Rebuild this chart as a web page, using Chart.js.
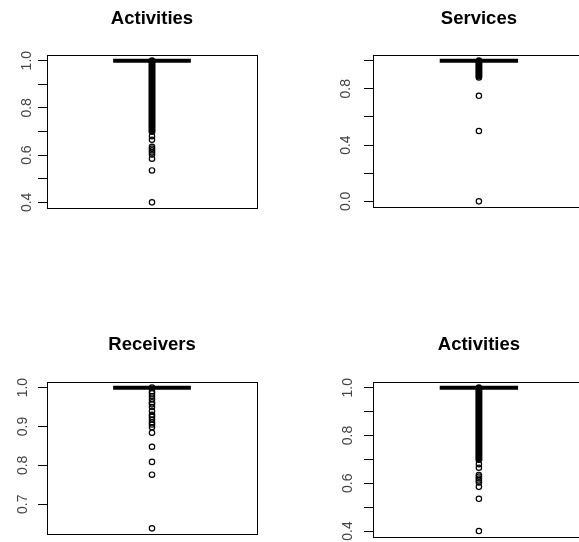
<!DOCTYPE html>
<html>
<head>
<meta charset="utf-8">
<script src="https://cdn.jsdelivr.net/npm/chart.js@4.4.1/dist/chart.umd.min.js"></script>
<style>
  html, body { margin: 0; padding: 0; background: #fff; width: 579px; height: 542px; overflow: hidden; }
  canvas { position: absolute; display: block; }
</style>
</head>
<body>
<canvas id="c1"></canvas>
<canvas id="c2"></canvas>
<canvas id="c3"></canvas>
<canvas id="c4"></canvas>
<script>
// ---- data ----
const titles = ['Activities', 'Services', 'Receivers', 'Activities'];

// Activities: median, a run of outliers packed so tightly they form a solid column, and the sparse outliers below it
const activitiesMedian = 1.0;
const activitiesDense = [0.70, 1.0];
const activitiesOutliers = [0.68, 0.665, 0.635, 0.628, 0.62, 0.612, 0.603, 0.585, 0.535, 0.40];
const activitiesTicks = [0.4, 0.5, 0.6, 0.7, 0.8, 0.9, 1.0];
const activitiesTickLabels = ['0.4', '', '0.6', '', '0.8', '', '1.0'];

// Services
const servicesMedian = 1.0;
const servicesDense = [0.89, 1.0];
const servicesOutliers = [0.88, 0.75, 0.5, 0.0];
const servicesTicks = [0.0, 0.2, 0.4, 0.6, 0.8, 1.0];
const servicesTickLabels = ['0.0', '', '0.4', '', '0.8', ''];

// Receivers
const receiversMedian = 1.0;
const receiversDense = null;
const receiversOutliers = [1.0, 0.99, 0.985, 0.978, 0.97, 0.962, 0.957, 0.95, 0.94, 0.93, 0.925,
  0.918, 0.91, 0.905, 0.898, 0.884, 0.848, 0.809, 0.776, 0.638];
const receiversTicks = [0.7, 0.8, 0.9, 1.0];
const receiversTickLabels = ['0.7', '0.8', '0.9', '1.0'];

// ---- panel layout (canvas placement and plot region inside it) ----
const panels = [
  { id: 'c1', x: 0,   y: 0,   w: 290, h: 271, area: { l: 47, t: 55,  r: 257, b: 208 }, titleMid: 18.5, labelGap: 1.5,
    title: titles[0], median: activitiesMedian, dense: activitiesDense, outliers: activitiesOutliers,
    ticks: activitiesTicks, tickLabels: activitiesTickLabels },
  { id: 'c2', x: 290, y: 0,   w: 300, h: 271, area: { l: 83, t: 55,  r: 295, b: 207 }, titleMid: 18.5, labelGap: 8.5,
    title: titles[1], median: servicesMedian, dense: servicesDense, outliers: servicesOutliers,
    ticks: servicesTicks, tickLabels: servicesTickLabels },
  { id: 'c3', x: 0,   y: 271, w: 290, h: 271, area: { l: 47, t: 111, r: 257, b: 263 }, titleMid: 74, labelGap: 5.5,
    title: titles[2], median: receiversMedian, dense: receiversDense, outliers: receiversOutliers,
    ticks: receiversTicks, tickLabels: receiversTickLabels },
  { id: 'c4', x: 290, y: 271, w: 300, h: 271, area: { l: 83, t: 111, r: 295, b: 266 }, titleMid: 74, labelGap: 6.5,
    title: titles[3], median: activitiesMedian, dense: activitiesDense, outliers: activitiesOutliers,
    ticks: activitiesTicks, tickLabels: activitiesTickLabels }
];

const MEDIAN_HALF_WIDTH = 0.37;   // in x-scale units (scale spans -1..1)
const TITLE_FONT = { family: '"Liberation Sans", Arial, sans-serif', size: 18.5, weight: 'bold', lineHeight: 1 };
const TICK_FONT = { family: '"Liberation Sans", Arial, sans-serif', size: 14 };

// frame around the plotting region
const framePlugin = {
  id: 'frame',
  afterDatasetsDraw(chart) {
    const { ctx, chartArea: a } = chart;
    ctx.save();
    ctx.strokeStyle = '#000';
    ctx.lineWidth = 1;
    ctx.strokeRect(Math.round(a.left) + 0.5, Math.round(a.top) + 0.5,
                   Math.round(a.right - a.left), Math.round(a.bottom - a.top));
    ctx.restore();
  }
};

function buildPanel(p) {
  const canvas = document.getElementById(p.id);
  canvas.width = p.w;
  canvas.height = p.h;
  canvas.style.left = p.x + 'px';
  canvas.style.top = p.y + 'px';
  canvas.style.width = p.w + 'px';
  canvas.style.height = p.h + 'px';

  // y range: data range widened by 4% at each end
  const vals = p.outliers.concat(p.dense || [], [p.median]);
  const lo = Math.min(...vals), hi = Math.max(...vals);
  const pad = (hi - lo) * 0.04;

  const datasets = [];
  if (p.dense) {
    datasets.push({
      type: 'line', showLine: true,
      data: [{ x: 0, y: p.dense[0] }, { x: 0, y: p.dense[1] }],
      borderColor: '#000', borderWidth: 7, borderCapStyle: 'round',
      pointRadius: 0, clip: false
    });
  }
  datasets.push({
    type: 'line', showLine: true,
    data: [{ x: -MEDIAN_HALF_WIDTH, y: p.median }, { x: MEDIAN_HALF_WIDTH, y: p.median }],
    borderColor: '#000', borderWidth: 4, borderCapStyle: 'butt',
    pointRadius: 0, clip: false
  });
  datasets.push({
    type: 'scatter',
    data: p.outliers.map(v => ({ x: 0, y: v })),
    pointStyle: 'circle', pointRadius: 2.7, borderWidth: 1.2,
    borderColor: '#000', backgroundColor: 'rgba(0,0,0,0)', clip: false
  });

  const titleTop = p.titleMid - TITLE_FONT.size * TITLE_FONT.lineHeight / 2;
  const titleBottom = p.area.t - titleTop - TITLE_FONT.size * TITLE_FONT.lineHeight;

  new Chart(canvas, {
    type: 'scatter',
    data: { datasets },
    options: {
      responsive: false,
      animation: false,
      events: [],
      layout: { padding: { left: 0, top: 0, right: p.w - p.area.r, bottom: p.h - p.area.b } },
      plugins: {
        legend: { display: false },
        tooltip: { enabled: false },
        title: {
          display: true, text: p.title, fullSize: false, color: '#000',
          font: TITLE_FONT, padding: { top: titleTop, bottom: titleBottom }
        }
      },
      scales: {
        x: { type: 'linear', min: -1, max: 1, display: false },
        y: {
          type: 'linear', min: lo - pad, max: hi + pad,
          afterBuildTicks(scale) { scale.ticks = p.ticks.map(v => ({ value: v })); },
          afterFit(scale) { scale.width = p.area.l; scale.paddingTop = 0; scale.paddingBottom = 0; },
          border: { display: false },
          grid: { drawOnChartArea: false, drawTicks: true, tickLength: 9, color: '#000', lineWidth: 1 },
          ticks: {
            autoSkip: false, minRotation: 90, maxRotation: 90, crossAlign: 'center',
            padding: p.labelGap, color: '#444', font: TICK_FONT,
            callback: (value, index) => p.tickLabels[index]
          }
        }
      }
    },
    plugins: [framePlugin]
  });
}

panels.forEach(buildPanel);
</script>
</body>
</html>
